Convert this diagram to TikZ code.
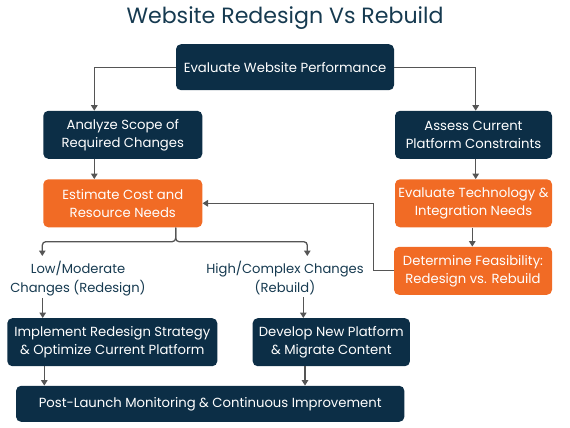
\documentclass[tikz,border=0pt]{standalone}
\usepackage{fontspec}
\setmainfont{Poppins}
\usepackage{tikz}
\usetikzlibrary{arrows.meta, positioning}
\definecolor{navy}{RGB}{12,46,70}
\definecolor{orangebox}{RGB}{241,107,37}
\definecolor{titleblue}{RGB}{22,58,80}
\definecolor{linegray}{RGB}{85,85,85}
\tikzstyle{darkbox} = [rectangle, rounded corners=5pt, fill=navy, text=white, align=center,
                       inner sep=0pt, font=\fontsize{13.2}{18}\selectfont]
\tikzstyle{orangebox} = [rectangle, rounded corners=5pt, fill=orangebox, text=white, align=center,
                         inner sep=0pt, font=\fontsize{13.2}{18}\selectfont]
\tikzstyle{choice} = [align=center, text=titleblue, inner sep=2pt, font=\fontsize{13.1}{18.7}\selectfont]
\tikzstyle{flow} = [draw=linegray, line width=1.3pt, -{Triangle[length=5.5pt,width=6.5pt]}]

\begin{document}
\begin{tikzpicture}[x=1pt, y=-1pt]
	\useasboundingbox (0, 0) rectangle (570, 428);

	\node (Title) [anchor=base, text=titleblue, font=\fontsize{22.1}{26}\selectfont] at (285, 24) {Website Redesign Vs Rebuild};

	\node (Evaluate) [darkbox, minimum width=218, minimum height=46] at (285, 67.2) {Evaluate Website Performance};

	% left branch
	\node (Analyze) [darkbox, minimum width=159, minimum height=48] at (122.8, 134.8) {Analyze Scope of\\Required Changes};
	\coordinate (AnalyzeIn) at (94.3, 110.7);
	\draw [flow] (Evaluate.west) -| (AnalyzeIn);

	\node (Estimate) [orangebox, minimum width=159, minimum height=48] at (122.8, 203.3) {Estimate Cost and\\Resource Needs};
	\draw [flow] (Analyze.south -| AnalyzeIn) -- (Estimate.north -| AnalyzeIn);

	% right branch
	\node (Assess) [darkbox, minimum width=157, minimum height=48] at (473.5, 134.8) {Assess Current\\Platform Constraints};
	\coordinate (AssessIn) at (475.7, 110.7);
	\draw [flow] (Evaluate.east) -| (AssessIn);

	\node (Technology) [orangebox, minimum width=157, minimum height=48] at (473.5, 203.3) {Evaluate Technology \&\\Integration Needs};
	\draw [flow] (Assess.south -| AssessIn) -- (Technology.north -| AssessIn);

	\node (Feasibility) [orangebox, minimum width=158, minimum height=48] at (473, 270.8) {Determine Feasibility:\\Redesign vs. Rebuild};
	\coordinate (FeasIn) at (472.3, 0);
	\draw [flow] (Technology.south -| FeasIn) -- (Feasibility.north -| FeasIn);

	% back to the estimate
	\coordinate (Back) at (373.3, 270.8);
	\draw [flow] (Feasibility.west) -- (Back) |- (Estimate.east);

	% the split
	\coordinate (Split) at (175.7, 241.7);
	\coordinate (LowIn) at (42.3, 256);
	\coordinate (HighIn) at (307.3, 256);
	\draw [flow, rounded corners=3.5pt] (Estimate.south -| Split) |- (Split -| LowIn) -- (LowIn);
	\draw [flow, rounded corners=3.5pt] (Estimate.south -| Split) |- (Split -| HighIn) -- (HighIn);

	\node (Low) [choice] at (78, 278.3) {Low/Moderate\\Changes (Redesign)};
	\node (High) [choice] at (285, 278.3) {High/Complex Changes\\(Rebuild)};

	\node (Implement) [darkbox, minimum width=210, minimum height=48] at (112.3, 342.2) {Implement Redesign Strategy\\\& Optimize Current Platform};
	\node (Develop) [darkbox, minimum width=157.3, minimum height=48] at (331.3, 342.2) {Develop New Platform\\\& Migrate Content};
	\coordinate (ImplementIn) at (42.7, 0);
	\coordinate (DevelopIn) at (303.3, 0);
	\draw [flow] (ImplementIn |- Low.south) -- (ImplementIn |- Implement.north);
	\draw [flow] (DevelopIn |- High.south) -- (DevelopIn |- Develop.north);

	% monitoring
	\node (Post) [darkbox, minimum width=388.3, minimum height=36] at (210.2, 403.8) {Post-Launch Monitoring \& Continuous Improvement};
	\coordinate (PostLeft) at (44.3, 0);
	\coordinate (PostRight) at (305, 0);
	\draw [flow] (Implement.south -| PostLeft) -- (Post.north -| PostLeft);
	\draw [flow] (Develop.south -| PostRight) -- (Post.north -| PostRight);
\end{tikzpicture}
\end{document}
